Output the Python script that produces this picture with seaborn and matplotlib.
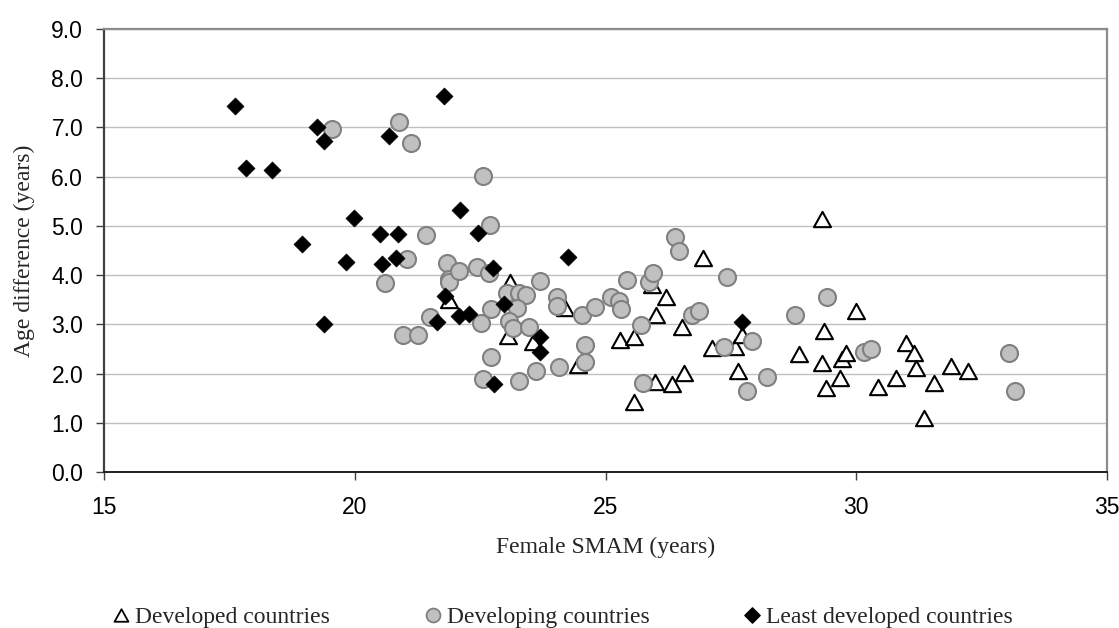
import matplotlib
matplotlib.use("Agg")
import matplotlib.pyplot as plt
from matplotlib.lines import Line2D
from matplotlib.path import Path
import seaborn as sns
import pandas as pd

# ---- data ----
dev_x = [21.87, 23.09, 23.06, 23.56, 24.19, 24.46, 25.29, 25.57, 25.57, 25.93,
         26.21, 26.01, 25.99, 26.33, 26.53, 26.57, 26.94, 27.12, 27.59, 27.65,
         27.73, 29.32, 30.00, 29.36, 28.85, 29.32, 29.72, 29.80, 29.68, 29.40,
         30.44, 30.79, 30.99, 31.16, 31.19, 31.35, 31.56, 31.88, 32.23]
dev_y = [3.49, 3.87, 2.77, 2.64, 3.33, 2.17, 2.68, 2.74, 1.43, 3.80,
         3.56, 3.19, 1.83, 1.78, 2.95, 2.02, 4.34, 2.51, 2.54, 2.06,
         2.78, 5.15, 3.27, 2.86, 2.39, 2.22, 2.29, 2.42, 1.90, 1.70,
         1.73, 1.90, 2.63, 2.42, 2.12, 1.09, 1.81, 2.15, 2.06]

dvg_x = [19.55, 20.88, 21.12, 22.55, 22.70, 21.43, 21.04, 20.60, 21.83, 21.87,
         21.87, 22.08, 22.43, 22.68, 21.50, 20.96, 21.27, 22.71, 22.51, 23.03,
         23.27, 23.42, 23.23, 23.07, 23.15, 23.47, 23.69, 22.71, 22.55, 23.27,
         23.62, 24.03, 24.03, 24.07, 24.54, 24.59, 24.59, 24.79, 25.11, 25.26,
         25.31, 25.43, 25.70, 25.74, 25.87, 25.94, 26.39, 26.47, 26.73, 26.87,
         27.42, 27.37, 27.93, 27.83, 28.23, 28.77, 29.42, 30.16, 30.29, 33.05,
         33.17]
dvg_y = [6.96, 7.12, 6.68, 6.02, 5.02, 4.82, 4.32, 3.83, 4.24, 3.93,
         3.87, 4.08, 4.16, 4.05, 3.15, 2.78, 2.78, 3.31, 3.02, 3.63,
         3.64, 3.60, 3.34, 3.06, 2.93, 2.94, 3.88, 2.33, 1.89, 1.85,
         2.05, 3.55, 3.37, 2.14, 3.19, 2.58, 2.24, 3.35, 3.55, 3.47,
         3.31, 3.91, 2.99, 1.80, 3.87, 4.05, 4.77, 4.48, 3.19, 3.27,
         3.96, 2.54, 2.66, 1.65, 1.94, 3.19, 3.55, 2.44, 2.49, 2.41,
         1.65]

ldc_x = [17.61, 19.25, 19.39, 17.83, 18.34, 20.69, 21.78, 19.98, 18.94, 20.50,
         20.86, 19.82, 20.54, 20.82, 22.10, 19.39, 21.79, 22.08, 22.27, 21.65,
         22.45, 22.76, 22.97, 22.78, 23.70, 23.69, 24.25, 27.73]
ldc_y = [7.44, 7.00, 6.73, 6.17, 6.14, 6.83, 7.64, 5.16, 4.63, 4.84,
         4.84, 4.26, 4.23, 4.34, 5.32, 3.00, 3.58, 3.17, 3.21, 3.04,
         4.86, 4.14, 3.41, 1.79, 2.75, 2.44, 4.37, 3.04]

labels = ["Developed countries", "Developing countries", "Least developed countries"]
x_ticks = [15, 20, 25, 30, 35]
y_ticks = [0, 1, 2, 3, 4, 5, 6, 7, 8, 9]

df = pd.concat([
    pd.DataFrame({"x": dev_x, "y": dev_y, "group": labels[0]}),
    pd.DataFrame({"x": dvg_x, "y": dvg_y, "group": labels[1]}),
    pd.DataFrame({"x": ldc_x, "y": ldc_y, "group": labels[2]}),
])

sns.set_style("white")
plt.rcParams["font.family"] = ["Liberation Sans", "DejaVu Sans"]

fig = plt.figure(figsize=(11.19, 6.28), dpi=100)
ax = fig.add_axes([104 / 1119, 1 - 472 / 628, (1107 - 104) / 1119, (472 - 29) / 628])

tri = Path([(0, 0.9), (-1, -0.9), (1, -0.9), (0, 0.9)], closed=True)
dia = Path([(0, 1), (1, 0), (0, -1), (-1, 0), (0, 1)], closed=True)

sns.scatterplot(data=df[df.group == labels[0]], x="x", y="y", ax=ax,
                marker=tri, s=150, color="white", edgecolor="black",
                linewidth=1.5, legend=False, zorder=3)
sns.scatterplot(data=df[df.group == labels[1]], x="x", y="y", ax=ax,
                marker="o", s=150, color="#C0C0C0", edgecolor="#808080",
                linewidth=1.5, legend=False, zorder=4)
sns.scatterplot(data=df[df.group == labels[2]], x="x", y="y", ax=ax,
                marker=dia, s=150, color="black", edgecolor="black",
                linewidth=0.5, legend=False, zorder=5)

ax.set_xlim(15, 35)
ax.set_ylim(0, 9)
ax.set_xticks(x_ticks)
ax.set_yticks(y_ticks)
ax.set_yticklabels([f"{v:.1f}" for v in y_ticks])
ax.grid(axis="y", color="#C0C0C0", linewidth=1.0)
ax.grid(axis="x", visible=False)
ax.set_axisbelow(True)

for side in ["top", "right"]:
    ax.spines[side].set_visible(True)
    ax.spines[side].set_color("#8C8C8C")
    ax.spines[side].set_linewidth(1.6)
ax.spines["left"].set_color("#404040")
ax.spines["left"].set_linewidth(1.6)
ax.spines["bottom"].set_color("#202020")
ax.spines["bottom"].set_linewidth(1.4)

ax.tick_params(axis="both", which="major", direction="out", length=6, width=1,
               color="#404040", labelsize=16.5, labelcolor="black")
ax.tick_params(axis="x", pad=11, bottom=True)
ax.tick_params(axis="y", pad=9, left=True)

serif = ["Liberation Serif", "DejaVu Serif"]
ax.set_xlabel("Female SMAM (years)", fontsize=17, family=serif, labelpad=13)
ax.set_ylabel("Age difference (years)", fontsize=17, family=serif, labelpad=12)

handles = [
    Line2D([], [], linestyle="none", marker=tri, markersize=10,
           markerfacecolor="white", markeredgecolor="black", markeredgewidth=1.3),
    Line2D([], [], linestyle="none", marker="o", markersize=10,
           markerfacecolor="#C0C0C0", markeredgecolor="#808080", markeredgewidth=1.3),
    Line2D([], [], linestyle="none", marker=dia, markersize=11,
           markerfacecolor="black", markeredgecolor="black"),
]
fig.legend(handles, labels, loc="center", bbox_to_anchor=(0.503, 1 - 617 / 628),
           ncol=3, frameon=False, prop={"family": serif, "size": 17},
           handlelength=0.7, handletextpad=0.25, columnspacing=4.0,
           borderaxespad=0, borderpad=0)

fig.savefig("out.png", dpi=100)
